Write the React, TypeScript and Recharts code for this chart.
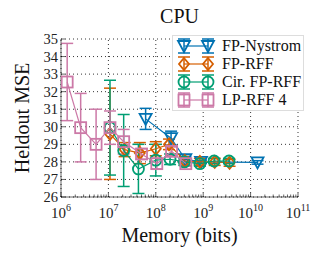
import React from 'react';
import {
  CartesianGrid,
  ComposedChart,
  ErrorBar,
  ReferenceLine,
  Scatter,
  XAxis,
  YAxis,
} from 'recharts';

const W = 327;
const H = 264;
const FONT = '"Liberation Serif", serif';

const xDecades = [1e6, 1e7, 1e8, 1e9, 1e10, 1e11];
const yTicks = [26, 27, 28, 29, 30, 31, 32, 33, 34, 35];

const nystromX = [6.1e7, 2.1e8, 4.2e8, 9e8, 1.4e10];
const nystromY = [30.45, 29.35, 28.15, 28.0, 27.97];
const nystromErr = [0.6, 0.4, 0.15, 0.1, 0.1];

const rffX = [1.08e7, 2.2e7, 4.6e7, 1e8, 1.9e8, 4.1e8, 8.5e8, 1.75e9, 3.6e9];
const rffY = [29.6, 28.7, 28.5, 28.75, 29.0, 28.05, 28.0, 28.0, 27.95];
const rffErr = [2.6, 0.4, 0.6, 0.4, 0.3, 0.25, 0.2, 0.2, 0.2];

const cirX = [1.08e7, 2.1e7, 4.3e7, 1e8, 2e8, 4e8, 8.5e8, 1.7e9, 3.5e9];
const cirY = [29.95, 28.65, 27.6, 28.1, 28.15, 28.0, 27.9, 28.05, 28.05];
const cirErr = [2.7, 2.05, 1.4, 0.9, 0.3, 0.2, 0.15, 0.15, 0.15];

const lpX = [1.35e6, 2.6e6, 5.5e6, 1.08e7, 2.1e7, 5e7, 1.05e8, 2.15e8, 4.3e8];
const lpY = [32.55, 29.95, 29.0, 29.95, 29.15, 28.45, 27.9, 28.6, 27.9];
const lpErr = [2.2, 1.95, 2.0, 0.95, 0.7, 0.3, 0.3, 0.25, 0.15];

type Kind = 'tri' | 'diamond' | 'circle' | 'square';

type Series = {
  name: string;
  color: string;
  kind: Kind;
  xs: number[];
  ys: number[];
  errs: number[];
};

const SERIES: Series[] = [
  { name: 'FP-Nystrom', color: '#0072B2', kind: 'tri', xs: nystromX, ys: nystromY, errs: nystromErr },
  { name: 'FP-RFF', color: '#D55E00', kind: 'diamond', xs: rffX, ys: rffY, errs: rffErr },
  { name: 'Cir. FP-RFF', color: '#009E73', kind: 'circle', xs: cirX, ys: cirY, errs: cirErr },
  { name: 'LP-RFF 4', color: '#CC79A7', kind: 'square', xs: lpX, ys: lpY, errs: lpErr },
];

const minorTicks: number[] = [];
for (let d = 6; d < 11; d++) {
  for (let m = 1; m < 10; m++) minorTicks.push(m * Math.pow(10, d));
}
minorTicks.push(1e11);

function Marker({ cx, cy, kind, color }: { cx: number; cy: number; kind: Kind; color: string }) {
  const sw = 1.8;
  if (kind === 'tri') {
    return (
      <polygon
        points={`${cx - 6},${cy - 5} ${cx + 6},${cy - 5} ${cx},${cy + 6}`}
        fill="none"
        stroke={color}
        strokeWidth={sw}
      />
    );
  }
  if (kind === 'diamond') {
    return (
      <polygon
        points={`${cx},${cy - 6} ${cx + 5},${cy} ${cx},${cy + 6} ${cx - 5},${cy}`}
        fill="none"
        stroke={color}
        strokeWidth={sw}
      />
    );
  }
  if (kind === 'circle') {
    return <circle cx={cx} cy={cy} r={5.5} fill="none" stroke={color} strokeWidth={sw} />;
  }
  return <rect x={cx - 5.5} y={cy - 5.5} width={11} height={11} fill="none" stroke={color} strokeWidth={sw} />;
}

function XTick(props: any) {
  const { x, y, payload } = props;
  const v = payload.value as number;
  const exp = Math.round(Math.log10(v));
  const isMajor = Math.abs(Math.pow(10, exp) - v) < 1;
  return (
    <g>
      <line x1={x} y1={y} x2={x} y2={y - (isMajor ? 4 : 2.5)} stroke="#000" strokeWidth={0.6} />
      {isMajor && (
        <text x={x} y={y + 21} textAnchor="middle" fontFamily={FONT} fontSize={15} fill="#222">
          10
          <tspan dy={-7} fontSize={10}>
            {exp}
          </tspan>
        </text>
      )}
    </g>
  );
}

function YTick(props: any) {
  const { x, y, payload } = props;
  return (
    <g>
      <line x1={x} y1={y} x2={x + 4} y2={y} stroke="#000" strokeWidth={0.6} />
      <text x={x - 3} y={y + 5} textAnchor="end" fontFamily={FONT} fontSize={14.5} fill="#222">
        {payload.value}
      </text>
    </g>
  );
}

function LegendBox() {
  return (
    <div
      style={{
        position: 'absolute',
        left: 172,
        top: 35,
        background: '#fff',
        border: '0.5px solid #ddd',
        padding: '1px 3px',
        width: 124,
      }}
    >
      {SERIES.map((s) => (
        <div key={s.name} style={{ display: 'flex', alignItems: 'center', height: 18 }}>
          <svg width={40} height={18} style={{ flex: 'none' }}>
            <line x1={8} y1={9} x2={32} y2={9} stroke={s.color} strokeWidth={1.2} />
            {[8, 32].map((cx) => (
              <g key={cx}>
                <line x1={cx} y1={2} x2={cx} y2={16} stroke={s.color} strokeWidth={1.5} />
                <line x1={cx - 6} y1={2} x2={cx + 6} y2={2} stroke={s.color} strokeWidth={1.5} />
                <line x1={cx - 6} y1={16} x2={cx + 6} y2={16} stroke={s.color} strokeWidth={1.5} />
                <Marker cx={cx} cy={9} kind={s.kind} color={s.color} />
              </g>
            ))}
          </svg>
          <span style={{ fontFamily: FONT, fontSize: 16, marginLeft: 6, color: '#111', whiteSpace: 'nowrap' }}>
            {s.name}
          </span>
        </div>
      ))}
    </div>
  );
}

export default function App() {
  return (
    <div style={{ position: 'absolute', left: 0, top: 0, width: W, height: H, background: '#fff' }}>
      <ComposedChart width={W} height={H} margin={{ top: 39, right: 29, left: 0, bottom: 0 }}>
        <CartesianGrid vertical={false} stroke="#000" strokeDasharray="1 3" strokeWidth={0.8} />
        {xDecades.map((d) => (
          <ReferenceLine key={d} x={d} stroke="#000" strokeDasharray="1 3" strokeWidth={0.8} />
        ))}
        <XAxis
          type="number"
          dataKey="x"
          scale="log"
          domain={[1e6, 1e11]}
          allowDataOverflow
          ticks={minorTicks}
          interval={0}
          tick={<XTick />}
          tickLine={false}
          tickSize={0}
          tickMargin={0}
          height={67}
          axisLine={{ stroke: '#000', strokeWidth: 0.6 }}
        />
        <YAxis
          type="number"
          dataKey="y"
          domain={[26, 35]}
          ticks={yTicks}
          interval={0}
          tick={<YTick />}
          tickLine={false}
          tickSize={0}
          tickMargin={0}
          width={61}
          axisLine={{ stroke: '#000', strokeWidth: 0.6 }}
        />
        {SERIES.map((s) => {
          const data = s.xs.map((x, i) => ({ x, y: s.ys[i], err: s.errs[i] }));
          return (
            <Scatter
              key={s.name}
              name={s.name}
              data={data}
              line={{ stroke: s.color, strokeWidth: 1.2 }}
              lineType="joint"
              fill={s.color}
              isAnimationActive={false}
              shape={(p: any) => <Marker cx={p.cx} cy={p.cy} kind={s.kind} color={s.color} />}
            >
              <ErrorBar dataKey="err" direction="y" width={6} stroke={s.color} strokeWidth={1.5} />
            </Scatter>
          );
        })}
      </ComposedChart>
      <LegendBox />
      <div
        style={{
          position: 'absolute',
          left: 61,
          width: 237,
          top: 5,
          textAlign: 'center',
          fontFamily: FONT,
          fontSize: 20,
          color: '#111',
        }}
      >
        CPU
      </div>
      <div
        style={{
          position: 'absolute',
          left: 61,
          width: 237,
          top: 224,
          textAlign: 'center',
          fontFamily: FONT,
          fontSize: 20,
          color: '#111',
        }}
      >
        Memory (bits)
      </div>
      <div
        style={{
          position: 'absolute',
          left: 22,
          top: 118,
          transform: 'translate(-50%, -50%) rotate(-90deg)',
          fontFamily: FONT,
          fontSize: 20,
          color: '#111',
          whiteSpace: 'nowrap',
        }}
      >
        Heldout MSE
      </div>
    </div>
  );
}
